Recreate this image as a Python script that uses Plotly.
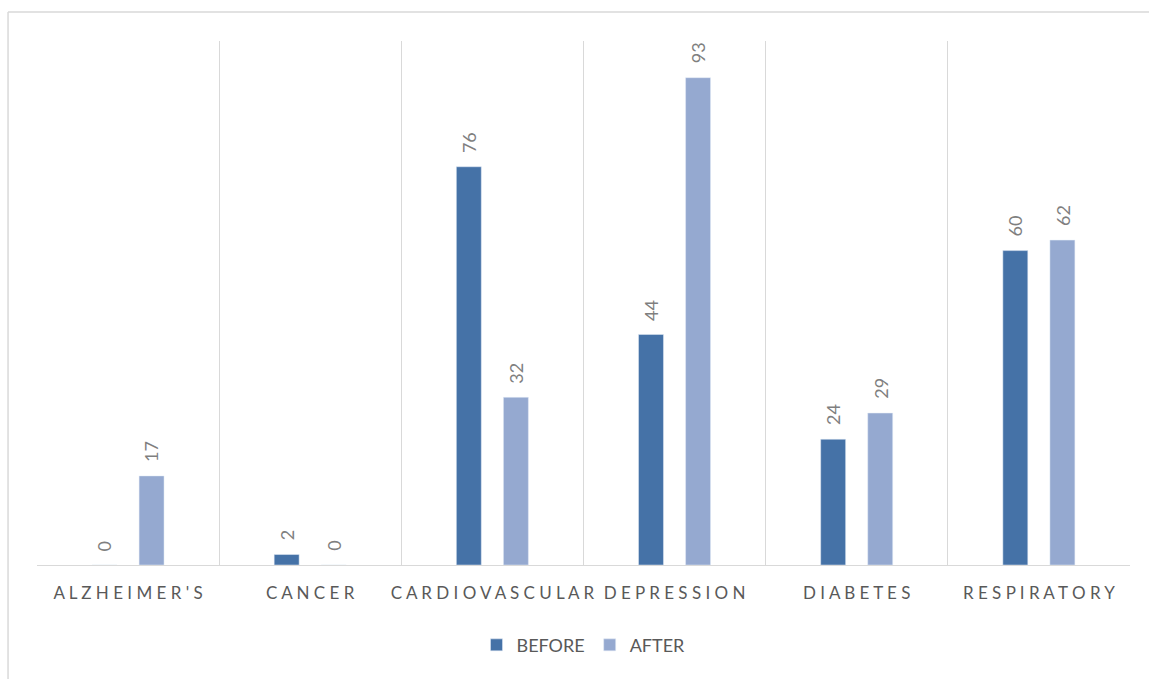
import plotly.graph_objects as go

# Conditions and counts before / after
categories = ["ALZHEIMER'S", "CANCER", "CARDIOVASCULAR", "DEPRESSION", "DIABETES", "RESPIRATORY"]
before = [0, 2, 76, 44, 24, 60]
after = [17, 0, 32, 93, 29, 62]

BEFORE_COLOR = "#4572A7"
AFTER_COLOR = "#95A9D0"
GRID = "#D9D9D9"
FONT = "Lato, 'Open Sans', sans-serif"

# spaced capitals for the category axis
spaced = [" ".join(c) for c in categories]

BAR_W = 0.137
OFF_B = -0.198
OFF_A = 0.0604

fig = go.Figure()
fig.add_trace(go.Bar(x=spaced, y=before, name="BEFORE", marker_color=BEFORE_COLOR,
                     width=BAR_W, offset=OFF_B))
fig.add_trace(go.Bar(x=spaced, y=after, name="AFTER", marker_color=AFTER_COLOR,
                     width=BAR_W, offset=OFF_A))

# rotated value labels above each bar
annotations = []
for i in range(len(categories)):
    for vals, off in ((before, OFF_B), (after, OFF_A)):
        annotations.append(dict(
            x=i + off + BAR_W / 2, y=vals[i], xref="x", yref="y",
            text=str(vals[i]), showarrow=False, textangle=-90,
            xanchor="center", yanchor="bottom", yshift=12,
            font=dict(family=FONT, size=18, color="#7F7F7F"),
        ))

shapes = [
    dict(type="line", xref="paper", yref="paper", x0=-0.0265, x1=1.05, y0=1.0553, y1=1.0553,
         line=dict(color=GRID, width=1.5)),
    dict(type="line", xref="paper", yref="paper", x0=-0.0265, x1=-0.0265, y0=1.0553, y1=-0.3,
         line=dict(color=GRID, width=1.5)),
]

fig.update_layout(
    width=1149, height=679,
    margin=dict(l=37, r=19, t=41, b=114, autoexpand=False),
    paper_bgcolor="white", plot_bgcolor="white",
    barmode="overlay",
    font=dict(family=FONT, color="#595959"),
    annotations=annotations,
    shapes=shapes,
    showlegend=True,
    legend=dict(orientation="h", x=0.5, xanchor="center", y=-0.153, yanchor="middle",
                font=dict(family=FONT, size=18, color="#595959"),
                itemwidth=30, traceorder="normal"),
    xaxis=dict(type="category", range=[-0.5, 5.5], tickson="boundaries",
               showgrid=True, gridcolor=GRID, gridwidth=1.3,
               showline=True, linecolor=GRID, linewidth=1.3,
               ticks="", tickangle=0, automargin=False,
               tickfont=dict(family=FONT, size=17, color="#595959"),
               ticklabelstandoff=12),
    yaxis=dict(range=[0, 100], showgrid=False, zeroline=False, showticklabels=False,
               showline=False, automargin=False),
)

fig.write_html("out.html")
